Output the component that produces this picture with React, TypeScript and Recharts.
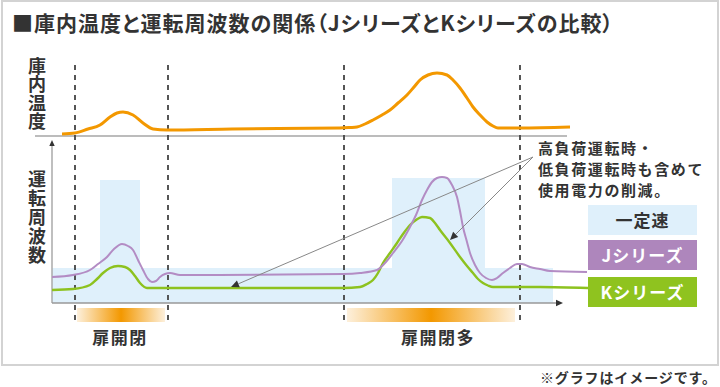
import React from "react";
import { ComposedChart, Line, ReferenceArea, ReferenceLine, XAxis, YAxis } from "recharts";

// time runs 0..100 between the axis origin and the end of the constant-speed band
// temperature / frequency are arbitrary "image" units
const tempPoints = [[2, 2], [4.6, 3], [7.2, 7], [9.6, 11], [11.6, 19], [13, 23], [14.2, 24], [16.2, 21], [18.2, 13], [20.2, 7], [23, 6], [36, 7], [57.6, 8], [59.6, 8.5], [61, 9], [62.6, 12], [64.2, 16], [66, 21], [67.6, 26], [69.2, 33], [71, 41], [72.4, 49], [73.6, 56], [75.2, 61], [77, 63], [79, 61], [80.2, 56], [81.6, 48], [83, 38], [84.2, 29], [85.6, 21], [87, 14], [88.2, 10], [89.2, 8], [93.6, 8], [103.6, 9]];
const jSeriesPoints = [[0, 26], [4.2, 28], [7.6, 33], [9.2, 39], [11, 46], [12.4, 54], [14, 59], [15.2, 57], [16.2, 53], [17.2, 43], [18.2, 33], [19.2, 24], [20, 21], [20.8, 22], [21.6, 26], [23.6, 30], [25.6, 28], [29, 28], [58.2, 29], [61.6, 30], [65, 33], [66.6, 40], [68.2, 50], [70, 62], [71.6, 76], [72.8, 88], [74, 103], [75, 113], [76, 121], [77, 125], [78, 126], [79, 125], [80, 118], [81, 106], [81.6, 92], [82.2, 76], [83, 61], [83.6, 50], [84.6, 38], [85.6, 30], [86.8, 25], [88, 23], [89, 25], [90.2, 30], [91.6, 35], [93, 39], [94, 39], [95.6, 36], [97.6, 34], [99.6, 32], [107, 31]];
const kSeriesPoints = [[0, 13], [4.2, 14], [7.6, 18], [9, 24], [10.2, 30], [11.6, 35], [13.2, 37], [14.6, 36], [15.6, 33], [16.6, 27], [17.6, 20], [19, 15], [29, 15], [58.2, 15], [61.6, 16], [63, 19], [64.2, 23], [65.2, 30], [66.2, 40], [67.6, 50], [69, 60], [70.2, 69], [71.6, 78], [72.8, 83], [74, 86], [75.6, 85], [76.6, 80], [77.6, 73], [79.6, 60], [81.6, 46], [83, 37], [84.2, 30], [85.2, 24], [86.2, 20], [87.2, 17.5], [88.2, 16], [97.6, 16], [107.2, 15]];

const constantSpeedBand = { from: 0, to: 100.2, level: 35 };
const constantSpeedPeaks = [[9.6, 17.6, 123], [68, 86.6, 125]];
const doorPeriods = [[5, 22.6], [59, 92.6]];
const doorLabels = ["扉開閉", "扉開閉多"];
const phaseMarks = [4.6, 23.2, 58.4, 93.6];
const noteOrigin = { x: 96.2, y: 146 };
const noteTargets = [{ x: 35.8, y: 16 }, { x: 79.6, y: 63 }];
const noteLines = ["高負荷運転時・", "低負荷運転時も含めて", "使用電力の削減。"];
const legendItems = [
  { label: "一定速", bg: "#dff0fb", color: "#333" },
  { label: "Jシリーズ", bg: "#ae86bc", color: "#fff" },
  { label: "Kシリーズ", bg: "#8fc31f", color: "#fff" },
];

const toRows = (pts: number[][]) => pts.map(([t, v]) => ({ t, v }));
const tempData = toRows(tempPoints);
const jData = toRows(jSeriesPoints);
const kData = toRows(kSeriesPoints);

const C = {
  orange: "#f39800",
  purple: "#b38cc4",
  green: "#8dc21f",
  blue: "#dff0fb",
  ink: "#333",
  grey: "#999",
};
const FONT = '"Noto Sans CJK JP", "Noto Sans", sans-serif';

function arrowShape(p: any, head: number, headFill: string, lineColor: string, width: number) {
  const { x1, y1, x2, y2 } = p;
  const a = Math.atan2(y2 - y1, x2 - x1);
  const bx = x2 - head * Math.cos(a);
  const by = y2 - head * Math.sin(a);
  const nx = -Math.sin(a) * head * 0.45;
  const ny = Math.cos(a) * head * 0.45;
  return (
    <g>
      <line x1={x1} y1={y1} x2={bx} y2={by} stroke={lineColor} strokeWidth={width} />
      <polygon points={`${x2},${y2} ${bx + nx},${by + ny} ${bx - nx},${by - ny}`} fill={headFill} />
    </g>
  );
}

export default function App() {
  return (
    <div style={{ position: "absolute", left: 0, top: 0, width: 720, height: 387, background: "#fff", overflow: "hidden", fontFamily: FONT }}>
      <div style={{ position: "absolute", left: 1, top: 0, width: 718, height: 366, border: "2px solid #d3d3d3", boxSizing: "border-box" }} />
      <div style={{ position: "absolute", left: 12, top: 8, fontSize: 21, lineHeight: "28px", fontWeight: 700, color: C.ink, whiteSpace: "nowrap", fontFeatureSettings: '"palt"', letterSpacing: 1 }}>
        ■庫内温度と運転周波数の関係（JシリーズとKシリーズの比較）
      </div>

      <div style={{ position: "absolute" }}>
        <ComposedChart width={720} height={387} data={tempData} margin={{ top: 63, bottom: 64, left: 32, right: 128 }}>
          <defs>
            <linearGradient id="doorGlow" x1="0" x2="1" y1="0" y2="0">
              <stop offset="0%" stopColor="#fdf0dc" />
              <stop offset="50%" stopColor="#f39800" />
              <stop offset="100%" stopColor="#fdf0dc" />
            </linearGradient>
          </defs>
          <XAxis type="number" dataKey="t" domain={[-4, 108]} hide allowDataOverflow />
          <YAxis yAxisId="freq" type="number" domain={[-20, 240]} hide allowDataOverflow />
          <YAxis yAxisId="temp" type="number" domain={[-187, 73]} hide allowDataOverflow />

          <ReferenceArea yAxisId="freq" x1={constantSpeedBand.from} x2={constantSpeedBand.to} y1={0} y2={constantSpeedBand.level} fill={C.blue} fillOpacity={1} stroke="none" ifOverflow="visible" />
          {constantSpeedPeaks.map(([a, b, top]) => (
            <ReferenceArea key={a} yAxisId="freq" x1={a} x2={b} y1={constantSpeedBand.level} y2={top} fill={C.blue} fillOpacity={1} stroke="none" ifOverflow="visible" />
          ))}
          {doorPeriods.map(([a, b]) => (
            <ReferenceArea key={a} yAxisId="freq" x1={a} x2={b} y1={-5} y2={-19} fill="url(#doorGlow)" fillOpacity={1} stroke="none" ifOverflow="visible" />
          ))}

          <ReferenceLine yAxisId="temp" segment={[{ x: -3.4, y: 0 }, { x: 103, y: 0 }]} stroke="#a6a6a6" strokeWidth={1.5} ifOverflow="visible" />
          {phaseMarks.map((x) => (
            <ReferenceLine key={x} yAxisId="freq" segment={[{ x, y: 238 }, { x, y: -19 }]} stroke="#444" strokeWidth={1.8} strokeDasharray="5 5" ifOverflow="visible" />
          ))}
          <ReferenceLine yAxisId="freq" segment={[{ x: 0, y: 0 }, { x: 0, y: 163 }]} stroke="#aaa" ifOverflow="visible" shape={(p: any) => arrowShape(p, 6, C.ink, "#aaa", 1.5)} />
          <ReferenceLine yAxisId="freq" segment={[{ x: 0, y: 0 }, { x: 102.2, y: 0 }]} stroke="#999" ifOverflow="visible" shape={(p: any) => arrowShape(p, 7, C.ink, "#999", 1.5)} />

          <Line data={kData} yAxisId="freq" dataKey="v" type="monotone" stroke={C.green} strokeWidth={2.4} dot={false} activeDot={false} isAnimationActive={false} />
          <Line data={jData} yAxisId="freq" dataKey="v" type="monotone" stroke={C.purple} strokeWidth={2} dot={false} activeDot={false} isAnimationActive={false} />
          <Line data={tempData} yAxisId="temp" dataKey="v" type="monotone" stroke={C.orange} strokeWidth={3} dot={false} activeDot={false} isAnimationActive={false} />

          {noteTargets.map((p) => (
            <ReferenceLine key={p.x} yAxisId="freq" segment={[noteOrigin, p]} stroke="#888" ifOverflow="visible" shape={(s: any) => arrowShape(s, 8, C.ink, "#888", 1)} />
          ))}
        </ComposedChart>
      </div>

      <div style={{ position: "absolute", left: 27, top: 57, width: 20, fontSize: 18, fontWeight: 700, color: C.ink, writingMode: "vertical-rl", letterSpacing: 0.5, lineHeight: "20px" }}>庫内温度</div>
      <div style={{ position: "absolute", left: 27, top: 170, width: 20, fontSize: 18, fontWeight: 700, color: C.ink, writingMode: "vertical-rl", letterSpacing: 1, lineHeight: "20px" }}>運転周波数</div>

      {doorLabels.map((label, i) => (
        <div key={label} style={{ position: "absolute", left: i === 0 ? 70 : 368, width: i === 0 ? 100 : 140, top: 327, textAlign: "center", fontSize: 17, fontWeight: 700, color: C.ink, letterSpacing: 1.5, lineHeight: "20px" }}>{label}</div>
      ))}

      <div style={{ position: "absolute", left: 538, top: 137, fontSize: 15, fontWeight: 700, color: C.ink, lineHeight: "21px", letterSpacing: 1.6, whiteSpace: "nowrap" }}>
        {noteLines.map((l) => <div key={l}>{l}</div>)}
      </div>

      {legendItems.map((it, i) => (
        <div key={it.label} style={{ position: "absolute", left: 588, top: [205, 240, 277][i], width: 109, height: 30, background: it.bg, color: it.color, fontSize: 17, fontWeight: 700, lineHeight: "30px", textAlign: "center", letterSpacing: 1 }}>{it.label}</div>
      ))}

      <div style={{ position: "absolute", right: 3, top: 369, fontSize: 14, fontWeight: 700, color: C.ink, lineHeight: "16px", letterSpacing: 0.9, whiteSpace: "nowrap" }}>※グラフはイメージです。</div>
    </div>
  );
}
